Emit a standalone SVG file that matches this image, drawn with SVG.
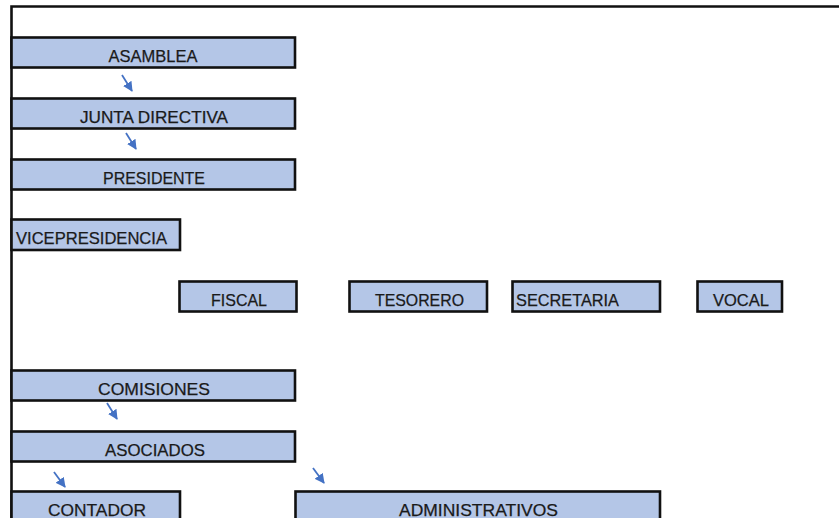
<svg xmlns="http://www.w3.org/2000/svg" width="839" height="518" viewBox="0 0 839 518">
<style>
.box{fill:#B4C6E7;stroke:#111;stroke-width:2.6}
.t{font-family:"Liberation Sans",Arial,sans-serif;font-size:16.5px;fill:#1a1a1a;stroke:#1a1a1a;stroke-width:0.25}
.c{text-anchor:middle}
.arr{stroke:#4472C4;stroke-width:1.8;fill:none}
</style>
<defs>
<marker id="ah" viewBox="0 0 10 10" refX="9" refY="5" markerWidth="5.5" markerHeight="5.5" orient="auto" markerUnits="strokeWidth">
<path d="M0,0 L10,5 L0,10 Z" fill="#4472C4"/>
</marker>
</defs>
<rect width="839" height="518" fill="#fff"/>
<g id="frame"><path d="M11.5,518 V6.5 H839" fill="none" stroke="#111" stroke-width="2.6"/></g>
<g id="asamblea"><rect class="box" x="11.5" y="37.5" width="283.5" height="30"/><text class="t c" x="153" y="61.5" textLength="89" lengthAdjust="spacingAndGlyphs">ASAMBLEA</text></g>
<g id="junta"><rect class="box" x="11.5" y="98.5" width="283.5" height="30"/><text class="t c" x="154" y="122.5" textLength="148" lengthAdjust="spacingAndGlyphs">JUNTA DIRECTIVA</text></g>
<g id="presidente"><rect class="box" x="11.5" y="159.5" width="283.5" height="30"/><text class="t c" x="154" y="183.5" textLength="102" lengthAdjust="spacingAndGlyphs">PRESIDENTE</text></g>
<g id="vicepresidencia"><rect class="box" x="11.5" y="219.5" width="168.5" height="30.5"/><text class="t" x="16" y="243.5" textLength="151" lengthAdjust="spacingAndGlyphs">VICEPRESIDENCIA</text></g>
<g id="fiscal"><rect class="box" x="179.5" y="281.5" width="117" height="30"/><text class="t c" x="239" y="305.5" textLength="56" lengthAdjust="spacingAndGlyphs">FISCAL</text></g>
<g id="tesorero"><rect class="box" x="349.5" y="281.5" width="137.5" height="30"/><text class="t c" x="419.5" y="305.5" textLength="89" lengthAdjust="spacingAndGlyphs">TESORERO</text></g>
<g id="secretaria"><rect class="box" x="512.5" y="281.5" width="147.5" height="30"/><text class="t" x="516" y="305.5" textLength="103" lengthAdjust="spacingAndGlyphs">SECRETARIA</text></g>
<g id="vocal"><rect class="box" x="697.5" y="281.5" width="84.5" height="30"/><text class="t c" x="741" y="305.5" textLength="56" lengthAdjust="spacingAndGlyphs">VOCAL</text></g>
<g id="comisiones"><rect class="box" x="11.5" y="370.5" width="283.5" height="30"/><text class="t c" x="154" y="394.5" textLength="112" lengthAdjust="spacingAndGlyphs">COMISIONES</text></g>
<g id="asociados"><rect class="box" x="11.5" y="431.5" width="283.5" height="30"/><text class="t c" x="155" y="455.5" textLength="100" lengthAdjust="spacingAndGlyphs">ASOCIADOS</text></g>
<g id="contador"><rect class="box" x="11.5" y="491.5" width="168.5" height="32"/><text class="t c" x="97" y="516" textLength="98" lengthAdjust="spacingAndGlyphs">CONTADOR</text></g>
<g id="administrativos"><rect class="box" x="295.5" y="491.5" width="364.5" height="32"/><text class="t c" x="478.5" y="516" textLength="159" lengthAdjust="spacingAndGlyphs">ADMINISTRATIVOS</text></g>
<g id="connectors">
<line class="arr" x1="122" y1="75" x2="132" y2="91" marker-end="url(#ah)"/>
<line class="arr" x1="126" y1="133" x2="136" y2="149" marker-end="url(#ah)"/>
<line class="arr" x1="107" y1="403" x2="117" y2="419" marker-end="url(#ah)"/>
<line class="arr" x1="54" y1="472" x2="65" y2="487" marker-end="url(#ah)"/>
<line class="arr" x1="313" y1="468" x2="324" y2="483" marker-end="url(#ah)"/>
</g>
</svg>
